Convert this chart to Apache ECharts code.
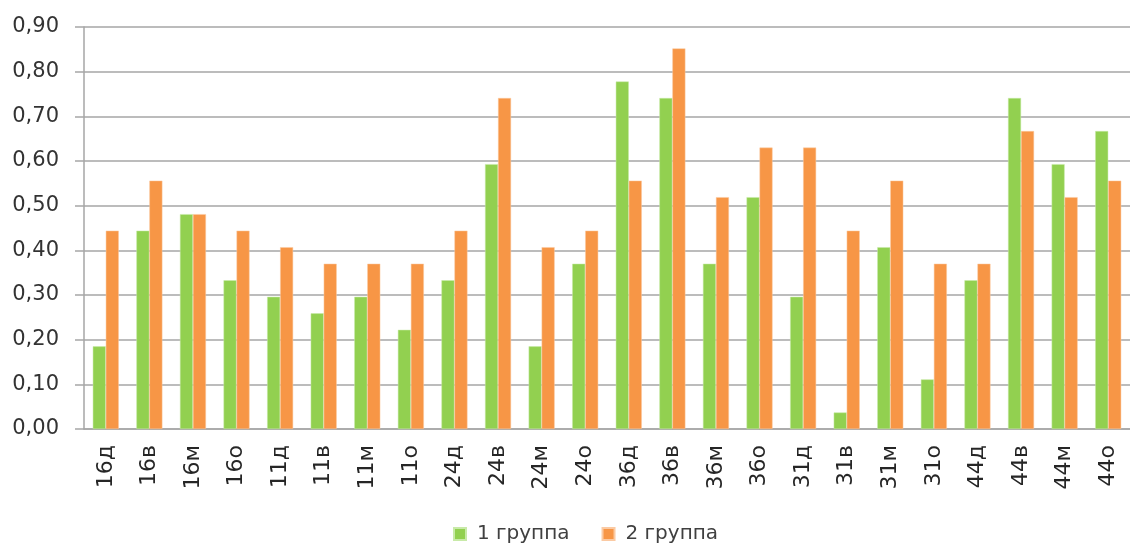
<!DOCTYPE html>
<html>
<head>
<meta charset="utf-8">
<script src="https://cdn.jsdelivr.net/npm/echarts@6/dist/echarts.min.js"></script>
<style>
html, body { margin: 0; padding: 0; background: #fff; }
#main { width: 1130px; height: 544px; }
</style>
</head>
<body>
<div id="main"></div>
<script>
var categories = ['16д', '16в', '16м', '16о', '11д', '11в', '11м', '11о', '24д', '24в', '24м', '24о',
    '36д', '36в', '36м', '36о', '31д', '31в', '31м', '31о', '44д', '44в', '44м', '44о'];
var group1 = [0.185, 0.444, 0.481, 0.333, 0.296, 0.259, 0.296, 0.222, 0.333, 0.593, 0.185, 0.370,
    0.778, 0.741, 0.370, 0.519, 0.296, 0.037, 0.407, 0.111, 0.333, 0.741, 0.593, 0.667];
var group2 = [0.444, 0.556, 0.481, 0.444, 0.407, 0.370, 0.370, 0.370, 0.444, 0.741, 0.407, 0.444,
    0.556, 0.852, 0.519, 0.630, 0.630, 0.444, 0.556, 0.370, 0.370, 0.667, 0.519, 0.556];
var seriesNames = ['1 группа', '2 группа'];

var myChart = echarts.init(document.getElementById('main'));
var font = '"DejaVu Sans", sans-serif';

myChart.setOption({
    animation: false,
    backgroundColor: '#fff',
    color: ['#92D050', '#F79646'],
    grid: { left: 84, right: 0, top: 27, bottom: 115 },
    legend: {
        top: 519,
        left: 448,
        itemWidth: 12,
        itemHeight: 12,
        itemGap: 32,
        icon: 'rect',
        textStyle: { fontFamily: font, fontSize: 20, color: '#404040', padding: [0, 0, 0, 6] },
        data: seriesNames
    },
    xAxis: {
        type: 'category',
        data: categories,
        axisLine: { lineStyle: { color: '#a6a6a6', width: 1.5 } },
        axisTick: { length: 8, lineStyle: { color: '#a6a6a6', width: 1.5 } },
        axisLabel: { rotate: 90, margin: 16, fontFamily: font, fontSize: 22, color: '#262626' }
    },
    yAxis: {
        type: 'value',
        min: 0,
        max: 0.9,
        interval: 0.1,
        axisLine: { show: true, lineStyle: { color: '#a6a6a6', width: 1.5 } },
        axisTick: { show: true, length: 9, lineStyle: { color: '#a6a6a6', width: 1.5 } },
        splitLine: { lineStyle: { color: '#a6a6a6', width: 1.5 } },
        axisLabel: {
            margin: 25,
            fontFamily: font,
            fontSize: 21,
            color: '#333333',
            formatter: function (v) { return v.toFixed(2).replace('.', ','); }
        }
    },
    series: [{
        name: seriesNames[0],
        type: 'bar',
        data: group1,
        barWidth: 13,
        barGap: '0%',
        itemStyle: { borderColor: '#c8eaa8', borderWidth: 0.5 }
    }, {
        name: seriesNames[1],
        type: 'bar',
        data: group2,
        barWidth: 13,
        barGap: '0%',
        itemStyle: { borderColor: '#fbcaa3', borderWidth: 0.5 }
    }]
});
</script>
</body>
</html>
